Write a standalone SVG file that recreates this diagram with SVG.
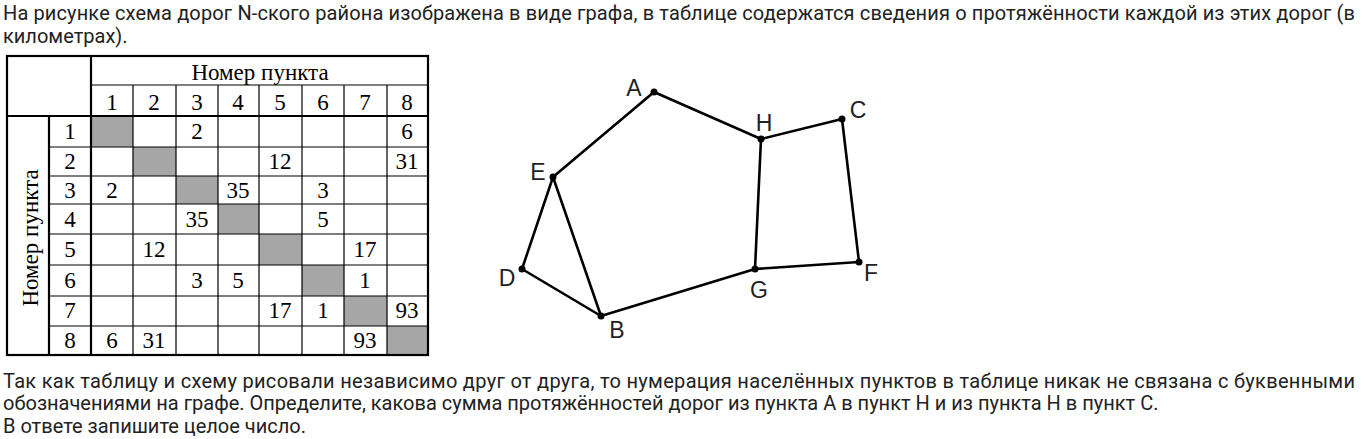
<svg xmlns="http://www.w3.org/2000/svg" width="1365" height="439" viewBox="0 0 1365 439">
<style>
.p{font-family:Roboto,"Liberation Sans",sans-serif;font-size:20px;fill:#222}
.t{font-family:"Liberation Serif","Times New Roman",serif;font-size:23px;fill:#000;text-anchor:middle}
.thin{stroke:#000;stroke-width:1.2;fill:none}
.thick{stroke:#000;stroke-width:2.2;fill:none}
.g{fill:#a6a6a6}
.edge{stroke:#000;stroke-width:2.6;stroke-linecap:round}
.dot{fill:#000}
.lbl{font-family:"Liberation Sans",Arial,sans-serif;font-size:23px;fill:#222;text-anchor:middle}
</style>
<rect width="1365" height="439" fill="#fff"/>
<g id="text-top">
<text class="p" x="3" y="20" textLength="1352" lengthAdjust="spacing">На рисунке схема дорог N-ского района изображена в виде графа, в таблице содержатся сведения о протяжённости каждой из этих дорог (в</text>
<text class="p" x="3" y="43">километрах).</text>
</g>
<g id="table">
<rect class="g" x="91" y="116" width="42" height="31"/>
<rect class="g" x="133" y="147" width="43" height="29"/>
<rect class="g" x="176" y="176" width="42" height="28"/>
<rect class="g" x="218" y="204" width="41" height="30"/>
<rect class="g" x="259" y="234" width="43" height="31"/>
<rect class="g" x="302" y="265" width="42" height="31"/>
<rect class="g" x="344" y="296" width="43" height="30"/>
<rect class="g" x="387" y="326" width="41" height="29"/>
<path class="thin" d="M91 85H428M133 85V355M176 85V355M218 85V355M259 85V355M302 85V355M344 85V355M387 85V355M49 147H428M49 176H428M49 204H428M49 234H428M49 265H428M49 296H428M49 326H428"/>
<path class="thick" d="M91 56V355M7 116H428M49 116V355"/>
<rect class="thick" x="7" y="56" width="421" height="299"/>
<text class="t" x="260" y="80">Номер пункта</text>
<text class="t" transform="translate(38 238) rotate(-90)" x="0" y="0">Номер пункта</text>
<g class="t">
<text x="112" y="110">1</text><text x="154" y="110">2</text><text x="197" y="110">3</text><text x="238" y="110">4</text><text x="280" y="110">5</text><text x="323" y="110">6</text><text x="365" y="110">7</text><text x="407" y="110">8</text>
<text x="70" y="139">1</text><text x="70" y="169">2</text><text x="70" y="198">3</text><text x="70" y="227">4</text><text x="70" y="257">5</text><text x="70" y="288">6</text><text x="70" y="318">7</text><text x="70" y="348">8</text>
<text x="197" y="139">2</text><text x="407" y="139">6</text>
<text x="280" y="169">12</text><text x="407" y="169">31</text>
<text x="112" y="198">2</text><text x="238" y="198">35</text><text x="323" y="198">3</text>
<text x="197" y="227">35</text><text x="323" y="227">5</text>
<text x="154" y="257">12</text><text x="365" y="257">17</text>
<text x="197" y="288">3</text><text x="238" y="288">5</text><text x="365" y="288">1</text>
<text x="280" y="318">17</text><text x="323" y="318">1</text><text x="407" y="318">93</text>
<text x="112" y="348">6</text><text x="154" y="348">31</text><text x="365" y="348">93</text>
</g>
</g>
<g id="edges">
<line class="edge" x1="654" y1="92" x2="553" y2="177"/>
<line class="edge" x1="654" y1="92" x2="761" y2="139"/>
<line class="edge" x1="761" y1="139" x2="842" y2="119"/>
<line class="edge" x1="761" y1="139" x2="755" y2="269"/>
<line class="edge" x1="842" y1="119" x2="859" y2="262"/>
<line class="edge" x1="755" y1="269" x2="859" y2="262"/>
<line class="edge" x1="553" y1="177" x2="522" y2="269"/>
<line class="edge" x1="553" y1="177" x2="601" y2="316"/>
<line class="edge" x1="522" y1="269" x2="601" y2="316"/>
<line class="edge" x1="601" y1="316" x2="755" y2="269"/>
</g>
<g id="node-A"><circle class="dot" cx="654" cy="92" r="3.5"/><text class="lbl" x="634" y="96">A</text></g>
<g id="node-H"><circle class="dot" cx="761" cy="139" r="3.5"/><text class="lbl" x="764" y="131">H</text></g>
<g id="node-C"><circle class="dot" cx="842" cy="119" r="3.5"/><text class="lbl" x="858" y="118">C</text></g>
<g id="node-E"><circle class="dot" cx="553" cy="177" r="3.5"/><text class="lbl" x="538" y="180">E</text></g>
<g id="node-D"><circle class="dot" cx="522" cy="269" r="3.5"/><text class="lbl" x="507" y="286">D</text></g>
<g id="node-B"><circle class="dot" cx="601" cy="316" r="3.5"/><text class="lbl" x="617" y="338">B</text></g>
<g id="node-G"><circle class="dot" cx="755" cy="269" r="3.5"/><text class="lbl" x="759" y="298">G</text></g>
<g id="node-F"><circle class="dot" cx="859" cy="262" r="3.5"/><text class="lbl" x="871" y="281">F</text></g>
<g id="text-bottom">
<text class="p" x="3" y="388" textLength="1352" lengthAdjust="spacing">Так как таблицу и схему рисовали независимо друг от друга, то нумерация населённых пунктов в таблице никак не связана с буквенными</text>
<text class="p" x="3" y="410">обозначениями на графе. Определите, какова сумма протяжённостей дорог из пункта A в пункт H и из пункта H в пункт C.</text>
<text class="p" x="3" y="433">В ответе запишите целое число.</text>
</g>
</svg>
